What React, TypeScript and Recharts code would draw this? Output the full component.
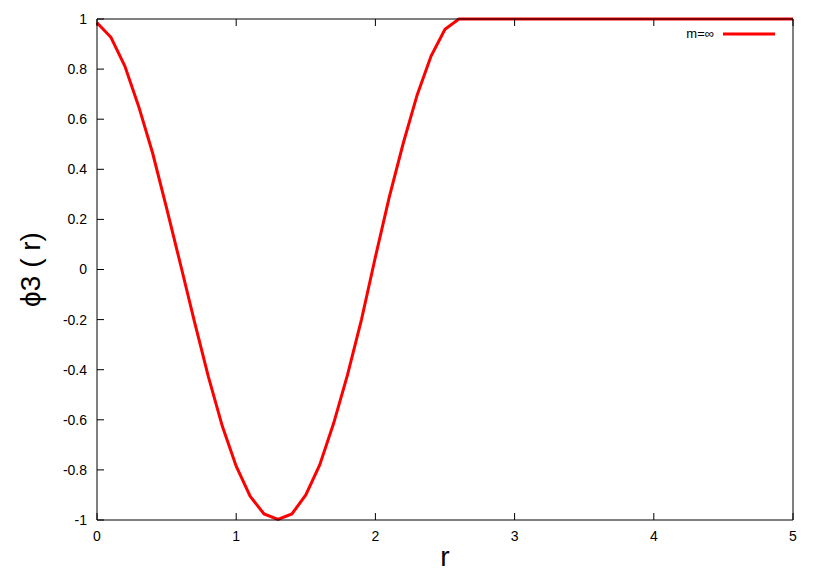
import React from 'react';
import { LineChart, Line, XAxis, YAxis } from 'recharts';

const rValues = [
  0, 0.1, 0.2, 0.3, 0.4, 0.5, 0.6, 0.7, 0.8, 0.9,
  1.0, 1.1, 1.2, 1.3, 1.4, 1.5, 1.6, 1.7, 1.8, 1.9,
  2.0, 2.1, 2.2, 2.3, 2.4, 2.5, 2.6, 2.7, 2.8, 2.9,
  3.0, 3.1, 3.2, 3.3, 3.4, 3.5, 3.6, 3.7, 3.8, 3.9,
  4.0, 4.1, 4.2, 4.3, 4.4, 4.5, 4.6, 4.7, 4.8, 4.9, 5.0,
];

const phiValues = [
  0.985, 0.927, 0.812, 0.65, 0.464, 0.245, 0.02, -0.208, -0.428, -0.625,
  -0.785, -0.905, -0.976, -0.998, -0.976, -0.9, -0.78, -0.614, -0.42, -0.2,
  0.05, 0.29, 0.504, 0.697, 0.852, 0.959, 1.0, 1.0, 1.0, 1.0,
  1.0, 1.0, 1.0, 1.0, 1.0, 1.0, 1.0, 1.0, 1.0, 1.0,
  1.0, 1.0, 1.0, 1.0, 1.0, 1.0, 1.0, 1.0, 1.0, 1.0, 1.0,
];

const xTicks = [0, 1, 2, 3, 4, 5];
const yTicks = [-1, -0.8, -0.6, -0.4, -0.2, 0, 0.2, 0.4, 0.6, 0.8, 1];

const seriesName = 'm=∞';

const data = rValues.map((r, i) => ({ r, phi: phiValues[i] }));

const FONT = '"Liberation Sans", Arial, sans-serif';
const tickStyle = { fontSize: 14, fill: '#000', fontFamily: FONT };

// gnuplot style key, top right inside the frame
const Key = () => (
  <div
    style={{
      position: 'absolute',
      top: 26,
      left: 650,
      width: 140,
      display: 'flex',
      alignItems: 'center',
      fontFamily: FONT,
      fontSize: 13,
    }}
  >
    <span style={{ width: 64, textAlign: 'right' }}>{seriesName}</span>
    <svg width={62} height={6} style={{ marginLeft: 9 }}>
      <line x1={0} y1={3} x2={52} y2={3} stroke="#ff0000" strokeWidth={3} />
    </svg>
  </div>
);

export default function App() {
  return (
    <div style={{ position: 'relative', width: 817, height: 572, background: '#fff' }}>
      <style>{'body{margin:0}'}</style>
      <LineChart
        width={817}
        height={572}
        data={data}
        margin={{ top: 18, right: 23, bottom: 0, left: 0 }}
      >
        <XAxis
          dataKey="r"
          type="number"
          domain={[0, 5]}
          ticks={xTicks}
          height={52}
          tickSize={-7}
          tickMargin={18}
          tick={tickStyle}
          axisLine={{ stroke: '#000' }}
          tickLine={{ stroke: '#000' }}
          label={{
            value: 'r',
            position: 'insideBottom',
            offset: 6,
            style: { fontSize: 28, fill: '#000', fontFamily: FONT },
          }}
        />
        <XAxis
          xAxisId="top"
          dataKey="r"
          type="number"
          orientation="top"
          domain={[0, 5]}
          ticks={xTicks}
          height={1}
          tickSize={-7}
          tickFormatter={() => ''}
          axisLine={{ stroke: '#000' }}
          tickLine={{ stroke: '#000' }}
        />
        <YAxis
          type="number"
          domain={[-1, 1]}
          ticks={yTicks}
          width={97}
          tickSize={-7}
          tickMargin={17}
          tick={tickStyle}
          axisLine={{ stroke: '#000' }}
          tickLine={{ stroke: '#000' }}
          label={{
            value: 'ϕ3 ( r)',
            angle: -90,
            position: 'insideLeft',
            offset: 30,
            style: { fontSize: 28, fill: '#000', fontFamily: FONT, textAnchor: 'middle' },
          }}
        />
        <YAxis
          yAxisId="right"
          type="number"
          orientation="right"
          domain={[-1, 1]}
          ticks={yTicks}
          width={1}
          tickSize={-7}
          tickFormatter={() => ''}
          axisLine={{ stroke: '#000' }}
          tickLine={{ stroke: '#000' }}
        />
        <Line
          type="linear"
          dataKey="phi"
          name={seriesName}
          stroke="#ff0000"
          strokeWidth={3}
          dot={false}
          isAnimationActive={false}
        />
      </LineChart>
      <Key />
    </div>
  );
}
